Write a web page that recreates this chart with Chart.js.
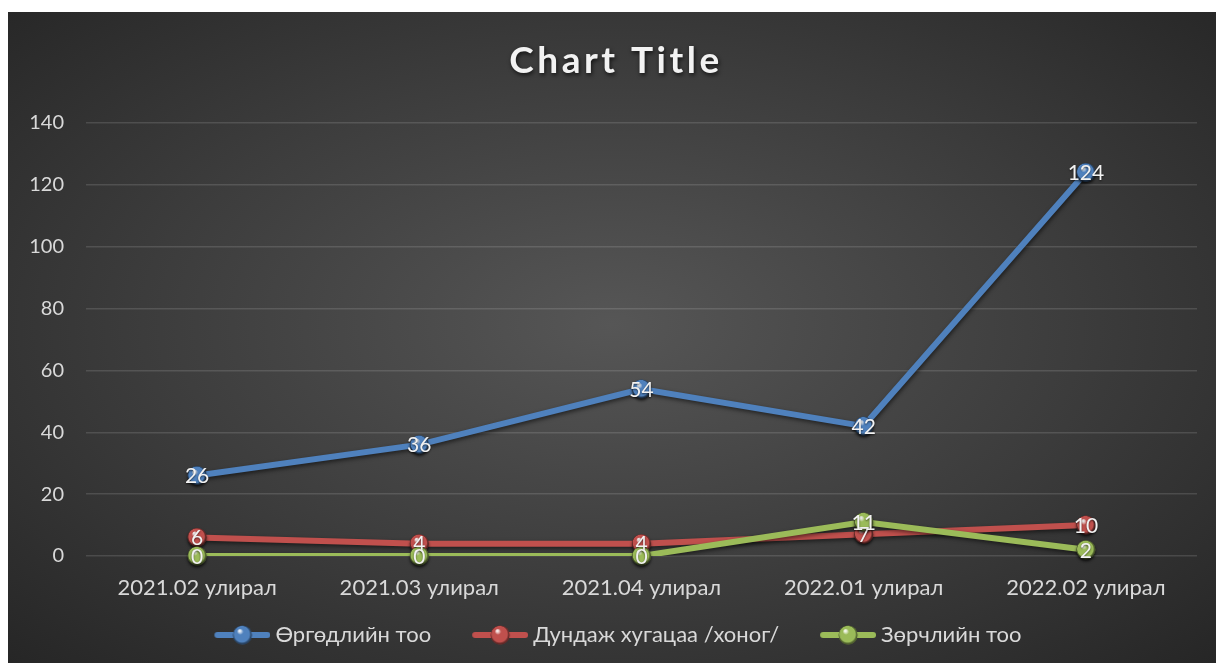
<!DOCTYPE html>
<html>
<head>
<meta charset="utf-8">
<script src="https://cdn.jsdelivr.net/npm/chart.js@4"></script>
<style>
  body { margin: 0; background: #fff; }
  #wrap {
    position: absolute; left: 8px; top: 12px; width: 1208px; height: 651px;
    background: radial-gradient(ellipse farthest-corner at 50% 48%, #565656 0%, #3c3c3c 55%, #262626 100%);
  }
</style>
</head>
<body>
<div id="wrap"><canvas id="chart"></canvas></div>
<script>
// --- DATA ---
const categories = ["2021.02 улирал", "2021.03 улирал", "2021.04 улирал", "2022.01 улирал", "2022.02 улирал"];
const seriesNames = ["Өргөдлийн тоо", "Дундаж хугацаа /хоног/", "Зөрчлийн тоо"];
const applications = [26, 36, 54, 42, 124];
const avgDays = [6, 4, 4, 7, 10];
const violations = [0, 0, 0, 11, 2];
const yTicks = [0, 20, 40, 60, 80, 100, 120, 140];

const colors = ["#4f81bd", "#c0504d", "#9bbb59"];
const FONT = "Lato, 'Noto Sans'";

// draws a shiny ball like the excel marker
function drawSphere(ctx, x, y, r, color) {
    const g = ctx.createRadialGradient(x - r * 0.3, y - r * 0.45, r * 0.1, x, y, r);
    g.addColorStop(0, "rgba(255,255,255,0.85)");
    g.addColorStop(0.25, color);
    g.addColorStop(0.8, color);
    g.addColorStop(1, "rgba(0,0,0,0.55)");
    ctx.beginPath();
    ctx.arc(x, y, r, 0, Math.PI * 2);
    ctx.fillStyle = color;
    ctx.fill();
    ctx.fillStyle = g;
    ctx.fill();
}

// legend icons: line with a ball, with empty room on the left so items sit further apart
const ICON_BOX = 81;
const icons = colors.map(c => {
    const cv = document.createElement("canvas");
    cv.width = 93; cv.height = 22;
    const x = cv.getContext("2d");
    x.strokeStyle = c;
    x.lineWidth = 6;
    x.lineCap = "round";
    x.beginPath(); x.moveTo(40, 11); x.lineTo(90, 11); x.stroke();
    drawSphere(x, 65, 11, 9.5, c);
    return cv;
});

const lineShadow = {
    id: "lineShadow",
    beforeDatasetDraw(chart) {
        const ctx = chart.ctx;
        ctx.save();
        ctx.shadowColor = "rgba(0,0,0,0.55)";
        ctx.shadowBlur = 4;
        ctx.shadowOffsetX = 1;
        ctx.shadowOffsetY = 2;
    },
    afterDatasetDraw(chart) {
        chart.ctx.restore();
    }
};

const markersAndLabels = {
    id: "markersAndLabels",
    afterDatasetsDraw(chart) {
        const ctx = chart.ctx;
        ctx.save();
        chart.data.datasets.forEach((ds, i) => {
            const meta = chart.getDatasetMeta(i);
            meta.data.forEach(pt => {
                ctx.shadowColor = "rgba(0,0,0,0.5)";
                ctx.shadowBlur = 3;
                ctx.shadowOffsetY = 2;
                drawSphere(ctx, pt.x, pt.y, 9.5, colors[i]);
            });
        });
        ctx.shadowColor = "rgba(0,0,0,0.6)";
        ctx.shadowBlur = 2;
        ctx.shadowOffsetY = 1;
        ctx.font = "21px " + FONT;
        ctx.fillStyle = "#f2f2f2";
        ctx.textAlign = "center";
        ctx.textBaseline = "middle";
        chart.data.datasets.forEach((ds, i) => {
            const meta = chart.getDatasetMeta(i);
            meta.data.forEach((pt, j) => {
                ctx.fillText(String(ds.data[j]), pt.x, pt.y + 1);
            });
        });
        ctx.restore();
    }
};

const spacedTitle = {
    id: "spacedTitle",
    afterDraw(chart) {
        const ctx = chart.ctx;
        ctx.save();
        ctx.font = "bold 37px " + FONT;
        ctx.letterSpacing = "3.5px";
        ctx.fillStyle = "#f2f2f2";
        ctx.textAlign = "center";
        ctx.textBaseline = "middle";
        ctx.shadowColor = "rgba(0,0,0,0.7)";
        ctx.shadowBlur = 4;
        ctx.shadowOffsetX = 1;
        ctx.shadowOffsetY = 2;
        ctx.fillText("Chart Title", chart.width / 2 + 4, 49);
        ctx.restore();
    }
};

const datasets = [applications, avgDays, violations].map((d, i) => ({
    label: seriesNames[i],
    data: d,
    borderColor: colors[i],
    backgroundColor: colors[i],
    borderWidth: 6,
    pointRadius: 0,
    pointHoverRadius: 0,
    tension: 0,
    order: 3 - i
}));

new Chart(document.getElementById("chart"), {
    type: "line",
    data: { labels: categories, datasets: datasets },
    options: {
        responsive: true,
        maintainAspectRatio: false,
        animation: false,
        layout: { padding: { top: 111, bottom: 7, left: 0, right: 19 } },
        scales: {
            x: {
                offset: true,
                grid: { display: false, drawTicks: false },
                border: { display: false },
                ticks: { color: "#d9d9d9", font: { family: FONT, size: 22 }, padding: 19, maxRotation: 0 },
                afterFit: s => { s.height = 58; }
            },
            y: {
                min: 0,
                max: 140,
                afterBuildTicks: s => { s.ticks = yTicks.map(v => ({ value: v })); },
                grid: { color: "rgba(255,255,255,0.13)", lineWidth: 1.5, drawTicks: false },
                border: { display: false },
                ticks: { color: "#d9d9d9", font: { family: FONT, size: 20 }, padding: 22 },
                afterFit: s => { s.width = 78; }
            }
        },
        plugins: {
            legend: {
                position: "bottom",
                labels: {
                    color: "#d9d9d9",
                    font: { family: FONT, size: 22 },
                    usePointStyle: true,
                    pointStyleWidth: ICON_BOX,
                    padding: 10,
                    sort: (a, b) => a.datasetIndex - b.datasetIndex,
                    generateLabels: chart => {
                        const items = Chart.defaults.plugins.legend.labels.generateLabels(chart);
                        items.forEach(it => { it.pointStyle = icons[it.datasetIndex]; });
                        return items;
                    }
                }
            },
            tooltip: { enabled: false }
        }
    },
    plugins: [lineShadow, markersAndLabels, spacedTitle]
});
</script>
</body>
</html>
